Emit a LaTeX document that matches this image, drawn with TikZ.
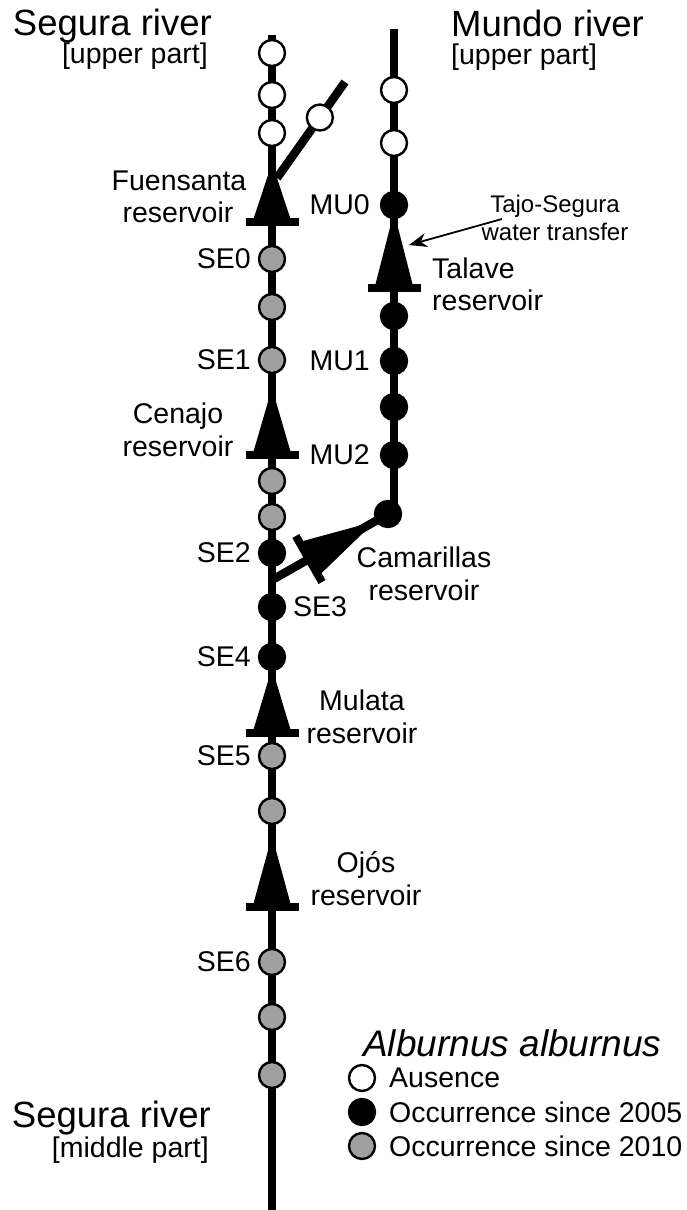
\documentclass[tikz,border=0pt]{standalone}
\usepackage{fontspec}
\setmainfont{Liberation Sans}
\usetikzlibrary{calc,arrows.meta}
\definecolor{occgray}{RGB}{160,160,160}
\pgfdeclarelayer{background}
\pgfsetlayers{background,main}
\tikzset{
  river/.style={line width=8.5pt},
  site/.style={circle,draw=black,line width=2.4pt,minimum size=26pt,inner sep=0pt},
  absent/.style={site,fill=white},
  occA/.style={site,fill=black},
  occB/.style={site,fill=occgray},
  lab/.style={font=\fontsize{28.5}{33}\selectfont,inner sep=0pt},
  smalllab/.style={font=\fontsize{24}{28}\selectfont,inner sep=0pt},
  bigtitle/.style={font=\fontsize{36.5}{40}\selectfont,inner sep=0pt},
  dambar/.style={line width=8pt},
  transfer/.style={line width=1.8pt,-{Stealth[length=18pt,width=14pt,inset=6pt]}},
}
\newcommand\reservoir[2]{%
  \fill ($(#2)!19.5pt!90:(#1)$) -- (#1) -- ($(#2)!19.5pt!-90:(#1)$) -- cycle;
  \draw[dambar] ($(#2)!26.5pt!90:(#1)$) -- ($(#2)!26.5pt!-90:(#1)$);
}
\begin{document}
\begin{tikzpicture}[x=1pt,y=-1pt]
\useasboundingbox (0,0) rectangle (687,1210);

% ---- coordinates of river ends and dams
\coordinate (segtop) at (272,35);
\coordinate (segbot) at (272,1215);
\coordinate (mtop) at (394,29);
\coordinate (junc) at (272,580);
\coordinate (bstart) at (277,178);
\coordinate (bend) at (345,82);
\coordinate (fuenA) at (272,163);
\coordinate (fuenB) at (272,222);
\coordinate (talA) at (394,212);
\coordinate (talB) at (394,288);
\coordinate (cenA) at (272,388);
\coordinate (cenB) at (272,455);
\coordinate (mulA) at (272,668);
\coordinate (mulB) at (272,733);
\coordinate (ojoA) at (272,836);
\coordinate (ojoB) at (272,907);

% ---- Segura sites
\node[absent] (sw1) at (272,53) {};
\node[absent] (sw2) at (272,95) {};
\node[absent] (sw3) at (272,133) {};
\node[absent] (bw1) at ($(bstart)!0.63!(bend)$) {};
\node[occB] (se0) at (272,259) {};
\node[occB] (g1) at (272,307) {};
\node[occB] (se1) at (272,360) {};
\node[occB] (g2) at (272,481) {};
\node[occB] (g3) at (272,517) {};
\node[occA] (se2) at (272,553) {};
\node[occA] (se3) at (272,607) {};
\node[occA] (se4) at (272,657) {};
\node[occB] (se5) at (272,756) {};
\node[occB] (g4) at (272,811) {};
\node[occB] (se6) at (272,962) {};
\node[occB] (g5) at (272,1017) {};
\node[occB] (g6) at (272,1075) {};

% ---- Mundo sites
\node[absent] (mw1) at (394,90) {};
\node[absent] (mw2) at (394,143) {};
\node[occA] (mu0) at (394,205) {};
\node[occA] (m1) at (394,316) {};
\node[occA] (mu1) at (394,361) {};
\node[occA] (m2) at (394,407) {};
\node[occA] (mu2) at (394,455) {};
\node[occA] (cam) at (388,514) {};

\coordinate (camA) at ($(cam.center)!15pt!(junc)$);
\coordinate (camB) at ($(cam.center)!91pt!(junc)$);

% ---- rivers and dams
\begin{pgfonlayer}{background}
  \draw[river] (segtop) -- (segbot);
  \draw[river] (bstart) -- (bend);
  \draw[river] (mtop) -- (mtop |- cam.center) -- (cam.center);
  \draw[river] (cam.center) -- (junc);
  \reservoir{fuenA}{fuenB}
  \reservoir{talA}{talB}
  \reservoir{cenA}{cenB}
  \reservoir{mulA}{mulB}
  \reservoir{ojoA}{ojoB}
  \reservoir{camA}{camB}
\end{pgfonlayer}

% ---- transfer arrow
\coordinate (tsTail) at (502,219);
\coordinate (tsHead) at (409,245);
\draw[transfer] (tsTail) -- (tsHead);

% ---- titles
\node[bigtitle,anchor=base east] (tSeg) at (212,35) {Segura river};
\node[lab,anchor=base east] (tSegU) at (208,63) {[upper part]};
\node[bigtitle,anchor=base west] (tMun) at (451,36) {Mundo river};
\node[lab,anchor=base west] (tMunU) at (451,64) {[upper part]};
\node[bigtitle,anchor=base east] (tSegM) at (211,1127) {Segura river};
\node[lab,anchor=base east] (tSegMU) at (209,1157) {[middle part]};

% ---- reservoir labels
\node[lab,anchor=base] (lFu1) at (179,190) {Fuensanta};
\node[lab,anchor=base] (lFu2) at (178,222) {reservoir};
\node[lab,anchor=base] (lCe1) at (178,423) {Cenajo};
\node[lab,anchor=base] (lCe2) at (178,456) {reservoir};
\node[lab,anchor=base west] (lTa1) at (432,278) {Talave};
\node[lab,anchor=base west] (lTa2) at (432,310) {reservoir};
\node[smalllab,anchor=base] (lTs1) at (555,212) {Tajo-Segura};
\node[smalllab,anchor=base] (lTs2) at (555,240) {water transfer};
\node[lab,anchor=base] (lCa1) at (424,567) {Camarillas};
\node[lab,anchor=base] (lCa2) at (424,600) {reservoir};
\node[lab,anchor=base] (lMu1) at (362,710) {Mulata};
\node[lab,anchor=base] (lMu2) at (362,743) {reservoir};
\node[lab,anchor=base] (lOj1) at (366,872) {Ojós};
\node[lab,anchor=base] (lOj2) at (366,905) {reservoir};

% ---- site labels
\node[lab,anchor=east] at (251,259) {SE0};
\node[lab,anchor=east] at (251,360) {SE1};
\node[lab,anchor=east] at (251,553) {SE2};
\node[lab,anchor=west] at (293,607) {SE3};
\node[lab,anchor=east] at (251,657) {SE4};
\node[lab,anchor=east] at (251,756) {SE5};
\node[lab,anchor=east] at (251,962) {SE6};
\node[lab,anchor=east] at (370,205) {MU0};
\node[lab,anchor=east] at (370,361) {MU1};
\node[lab,anchor=east] at (370,455) {MU2};

% ---- legend
\node[bigtitle,anchor=base west,font=\fontsize{37}{40}\selectfont\itshape] (legT) at (363,1056) {Alburnus alburnus};
\node[absent] (leg1) at (362,1078) {};
\node[occA] (leg2) at (362,1112) {};
\node[occB] (leg3) at (362,1146) {};
\node[lab,anchor=west] at (389,1078) {Ausence};
\node[lab,anchor=west] at (389,1112) {Occurrence since 2005};
\node[lab,anchor=west] at (389,1146) {Occurrence since 2010};
\end{tikzpicture}
\end{document}
